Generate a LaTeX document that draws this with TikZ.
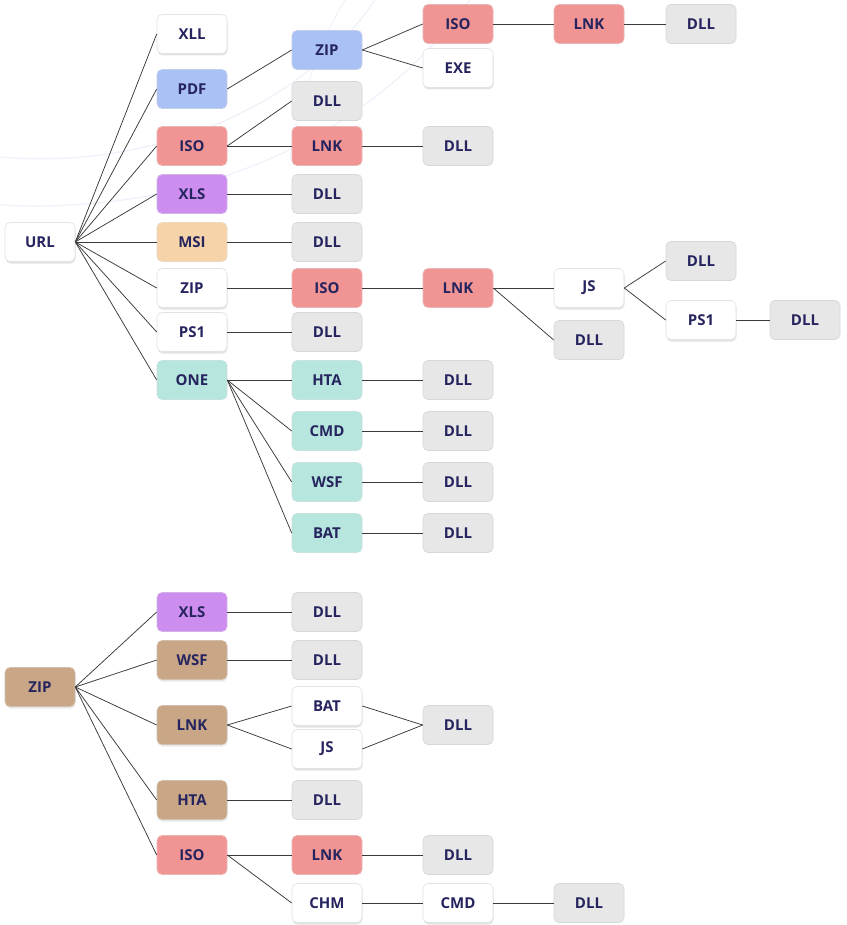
\documentclass[tikz,border=0pt]{standalone}
\usepackage{fontspec}
\setmainfont{Open Sans}
\usetikzlibrary{shadows}
\definecolor{ink}{HTML}{25245E}
\definecolor{wire}{HTML}{3A3A3A}
\definecolor{haze}{HTML}{F0F0FB}
\definecolor{cwhite}{HTML}{FFFFFF}
\definecolor{bwhite}{HTML}{E2E2E2}
\definecolor{cgrey}{HTML}{E7E7E7}
\definecolor{bgrey}{HTML}{D6D6D6}
\definecolor{cred}{HTML}{F09593}
\definecolor{cblue}{HTML}{AAC1F5}
\definecolor{cpurple}{HTML}{CC8DEE}
\definecolor{corange}{HTML}{F6D3A8}
\definecolor{cteal}{HTML}{B6E6DD}
\definecolor{cbrown}{HTML}{C8A686}
\tikzset{
  box/.style={rectangle, rounded corners=5pt, minimum width=70pt, minimum height=39pt,
    inner sep=0pt, line width=0.6pt, text=ink,
    font=\bfseries\fontsize{15}{15}\selectfont},
  wbox/.style={box, fill=cwhite, draw=bwhite,
    drop shadow={opacity=0.22, shadow xshift=0.5pt, shadow yshift=-2pt}},
  gbox/.style={box, fill=cgrey, draw=bgrey},
  rbox/.style={box, fill=cred, draw=cred!90!black!60},
  bbox/.style={box, fill=cblue, draw=cblue!90!black!60},
  pbox/.style={box, fill=cpurple, draw=cpurple!90!black!60},
  obox/.style={box, fill=corange, draw=corange!90!black!60},
  tbox/.style={box, fill=cteal, draw=cteal!90!black!60},
  nbox/.style={box, fill=cbrown, draw=cbrown!90!black!60,
    drop shadow={opacity=0.18, shadow xshift=0.5pt, shadow yshift=-2pt}},
  edge/.style={draw=wire, line width=0.75pt},
}
\begin{document}
\begin{tikzpicture}[x=1pt, y=-1pt]
\useasboundingbox (0,0) rectangle (846,925);
\fill[white] (0,0) rectangle (846,925);

% faint background arcs
\draw[haze, line width=1.2pt] (0,157) .. controls (150,170) and (300,110) .. (375,0);
\draw[haze, line width=1.2pt] (0,205) .. controls (180,215) and (360,150) .. (470,0);
\draw[haze, line width=0.8pt] (290,160) .. controls (300,100) and (320,40) .. (345,0);

% ---- upper tree ----
\node[wbox] (url) at (40,242) {URL};

\node[wbox] (xll) at (192,34) {XLL};
\node[bbox] (pdf) at (192,89) {PDF};
\node[rbox] (iso1) at (192,146) {ISO};
\node[pbox] (xls1) at (192,194) {XLS};
\node[obox] (msi) at (192,242) {MSI};
\node[wbox] (zip1) at (192,288) {ZIP};
\node[wbox] (ps1a) at (192,332) {PS1};
\node[tbox] (one) at (192,380) {ONE};

\node[bbox] (zip2) at (327,50) {ZIP};
\node[gbox] (dllA) at (327,101) {DLL};
\node[rbox] (lnk1) at (327,146) {LNK};
\node[gbox] (dllB) at (327,194) {DLL};
\node[gbox] (dllC) at (327,242) {DLL};
\node[rbox] (iso2) at (327,288) {ISO};
\node[gbox] (dllD) at (327,332) {DLL};
\node[tbox] (hta1) at (327,380) {HTA};
\node[tbox] (cmd1) at (327,431) {CMD};
\node[tbox] (wsf1) at (327,482) {WSF};
\node[tbox] (bat1) at (327,533) {BAT};

\node[rbox] (iso3) at (458,24) {ISO};
\node[wbox] (exe) at (458,68) {EXE};
\node[gbox] (dllE) at (458,146) {DLL};
\node[rbox] (lnk2) at (458,288) {LNK};
\node[gbox] (dllF) at (458,380) {DLL};
\node[gbox] (dllG) at (458,431) {DLL};
\node[gbox] (dllH) at (458,482) {DLL};
\node[gbox] (dllI) at (458,533) {DLL};

\node[rbox] (lnk3) at (589,24) {LNK};
\node[wbox] (js1) at (589,288) {JS};
\node[gbox] (dllJ) at (589,340) {DLL};

\node[gbox] (dllK) at (701,24) {DLL};
\node[gbox] (dllL) at (701,261) {DLL};
\node[wbox] (ps1b) at (701,320) {PS1};

\node[gbox] (dllM) at (805,320) {DLL};

\foreach \c in {xll,pdf,iso1,xls1,msi,zip1,ps1a,one}
  \draw[edge] (url.east) -- (\c.west);
\draw[edge] (pdf.east) -- (zip2.west);
\draw[edge] (zip2.east) -- (iso3.west);
\draw[edge] (zip2.east) -- (exe.west);
\draw[edge] (iso3.east) -- (lnk3.west);
\draw[edge] (lnk3.east) -- (dllK.west);
\draw[edge] (iso1.east) -- (dllA.west);
\draw[edge] (iso1.east) -- (lnk1.west);
\draw[edge] (lnk1.east) -- (dllE.west);
\draw[edge] (xls1.east) -- (dllB.west);
\draw[edge] (msi.east) -- (dllC.west);
\draw[edge] (zip1.east) -- (iso2.west);
\draw[edge] (iso2.east) -- (lnk2.west);
\draw[edge] (lnk2.east) -- (js1.west);
\draw[edge] (lnk2.east) -- (dllJ.west);
\draw[edge] (js1.east) -- (dllL.west);
\draw[edge] (js1.east) -- (ps1b.west);
\draw[edge] (ps1b.east) -- (dllM.west);
\draw[edge] (ps1a.east) -- (dllD.west);
\foreach \c in {hta1,cmd1,wsf1,bat1}
  \draw[edge] (one.east) -- (\c.west);
\draw[edge] (hta1.east) -- (dllF.west);
\draw[edge] (cmd1.east) -- (dllG.west);
\draw[edge] (wsf1.east) -- (dllH.west);
\draw[edge] (bat1.east) -- (dllI.west);

% ---- lower tree ----
\node[nbox] (zip3) at (40,687) {ZIP};

\node[pbox] (xls2) at (192,612) {XLS};
\node[nbox] (wsf2) at (192,660) {WSF};
\node[nbox] (lnk4) at (192,725) {LNK};
\node[nbox] (hta2) at (192,800) {HTA};
\node[rbox] (iso4) at (192,855) {ISO};

\node[gbox] (dllN) at (327,612) {DLL};
\node[gbox] (dllO) at (327,660) {DLL};
\node[wbox] (bat2) at (327,706) {BAT};
\node[wbox] (js2) at (327,749) {JS};
\node[gbox] (dllP) at (327,800) {DLL};
\node[rbox] (lnk5) at (327,855) {LNK};
\node[wbox] (chm) at (327,903) {CHM};

\node[gbox] (dllQ) at (458,725) {DLL};
\node[gbox] (dllR) at (458,855) {DLL};
\node[wbox] (cmd2) at (458,903) {CMD};

\node[gbox] (dllS) at (589,903) {DLL};

\foreach \c in {xls2,wsf2,lnk4,hta2,iso4}
  \draw[edge] (zip3.east) -- (\c.west);
\draw[edge] (xls2.east) -- (dllN.west);
\draw[edge] (wsf2.east) -- (dllO.west);
\draw[edge] (lnk4.east) -- (bat2.west);
\draw[edge] (lnk4.east) -- (js2.west);
\draw[edge] (bat2.east) -- (dllQ.west);
\draw[edge] (js2.east) -- (dllQ.west);
\draw[edge] (hta2.east) -- (dllP.west);
\draw[edge] (iso4.east) -- (lnk5.west);
\draw[edge] (iso4.east) -- (chm.west);
\draw[edge] (lnk5.east) -- (dllR.west);
\draw[edge] (chm.east) -- (cmd2.west);
\draw[edge] (cmd2.east) -- (dllS.west);
\end{tikzpicture}
\end{document}
